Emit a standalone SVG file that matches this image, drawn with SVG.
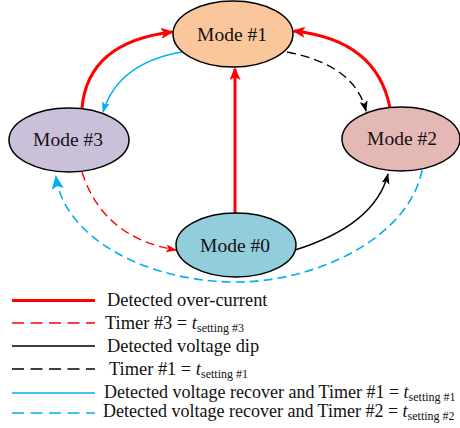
<svg xmlns="http://www.w3.org/2000/svg" width="460" height="428" viewBox="0 0 460 428">
  <style>
    .node { stroke: #000; stroke-width: 1.5; }
    .label { font-family: "Liberation Serif", "Times New Roman", serif; font-size: 19.5px; fill: #111; text-anchor: middle; }
    .leg { font-family: "Liberation Serif", "Times New Roman", serif; font-size: 18.4px; fill: #111; }
    .leg.long { font-size: 18px; }
    .sub { font-size: 12px; }
    .it { font-style: italic; }
    .red { stroke: #FF0000; stroke-width: 3; fill: none; }
    .redd { stroke: #FF0000; stroke-width: 1.4; fill: none; stroke-dasharray: 9 5; }
    .blk { stroke: #000; stroke-width: 1.4; fill: none; }
    .blkd { stroke: #000; stroke-width: 1.4; fill: none; stroke-dasharray: 9 5; }
    .blu { stroke: #00B0F0; stroke-width: 1.4; fill: none; }
    .blud { stroke: #00B0F0; stroke-width: 1.6; fill: none; stroke-dasharray: 9 5; }
  </style>
  <defs>
    <marker id="arRed" markerUnits="userSpaceOnUse" markerWidth="14" markerHeight="12" refX="11" refY="5.5" orient="auto">
      <path d="M0,0 L13,5.5 L0,11 L3,5.5 Z" fill="#FF0000"/>
    </marker>
    <marker id="arRedS" markerUnits="userSpaceOnUse" markerWidth="12" markerHeight="10" refX="10" refY="4" orient="auto">
      <path d="M0,0 L11,4 L0,8 L2.5,4 Z" fill="#FF0000"/>
    </marker>
    <marker id="arBlk" markerUnits="userSpaceOnUse" markerWidth="12" markerHeight="10" refX="10" refY="4" orient="auto">
      <path d="M0,0 L11,4 L0,8 L2.5,4 Z" fill="#000"/>
    </marker>
    <marker id="arBlu" markerUnits="userSpaceOnUse" markerWidth="12" markerHeight="10" refX="10" refY="4" orient="auto">
      <path d="M0,0 L11,4 L0,8 L2.5,4 Z" fill="#00B0F0"/>
    </marker>
    <marker id="arBluL" markerUnits="userSpaceOnUse" markerWidth="15" markerHeight="13" refX="12" refY="6" orient="auto">
      <path d="M0,0 L14,6 L0,12 L3,6 Z" fill="#00B0F0"/>
    </marker>
  </defs>

  <!-- transitions -->
  <g id="connectors">
    <!-- Mode #0 -> Mode #1 : over-current -->
    <path class="red" d="M235,213 L235,69" marker-end="url(#arRed)"/>
    <!-- Mode #3 -> Mode #1 : over-current -->
    <path class="red" d="M82,108 Q88,42 172,32" marker-end="url(#arRed)"/>
    <!-- Mode #2 -> Mode #1 : over-current -->
    <path class="red" d="M390,108 Q377,40 294,31" marker-end="url(#arRed)"/>
    <!-- Mode #1 -> Mode #3 : voltage recover, timer #1 -->
    <path class="blu" d="M182,52 Q118,63 103,112" marker-end="url(#arBlu)"/>
    <!-- Mode #1 -> Mode #2 : timer #1 -->
    <path class="blkd" d="M287,52 Q355,65 366,111" marker-end="url(#arBlk)"/>
    <!-- Mode #3 -> Mode #0 : timer #3 -->
    <path class="redd" d="M82,172 Q103,238 176,250" marker-end="url(#arRedS)"/>
    <!-- Mode #0 -> Mode #2 : voltage dip -->
    <path class="blk" d="M295,250 Q375,225 388,174" marker-end="url(#arBlk)"/>
    <!-- Mode #2 -> Mode #3 : voltage recover, timer #2 -->
    <path class="blud" d="M422,170 C410,235 320,282 236,282 C150,282 65,240 56,177" marker-end="url(#arBluL)"/>
  </g>

  <!-- states -->
  <g id="mode1">
    <ellipse class="node" cx="233" cy="34" rx="60" ry="33" fill="#F9C79B"/>
    <text class="label" x="232" y="41">Mode #1</text>
  </g>
  <g id="mode3">
    <ellipse class="node" cx="69" cy="140" rx="60" ry="32" fill="#CBC0DA"/>
    <text class="label" x="68" y="146">Mode #3</text>
  </g>
  <g id="mode2">
    <ellipse class="node" cx="401" cy="139" rx="59" ry="32" fill="#E3B8B5"/>
    <text class="label" x="402" y="145">Mode #2</text>
  </g>
  <g id="mode0">
    <ellipse class="node" cx="236" cy="245" rx="60" ry="32" fill="#92CDDC"/>
    <text class="label" x="235" y="252">Mode #0</text>
  </g>

  <!-- legend -->
  <g id="legend">
    <line class="red" x1="12" y1="300.5" x2="95" y2="300.5"/>
    <text class="leg" x="107" y="306">Detected over-current</text>

    <line class="redd" x1="12" y1="323" x2="95" y2="323" style="stroke-dasharray:12 6.5"/>
    <text class="leg" x="105" y="329">Timer #3 = <tspan class="it">t</tspan><tspan class="sub" dy="3">setting #3</tspan></text>

    <line class="blk" x1="12" y1="346" x2="95" y2="346"/>
    <text class="leg" x="107" y="352">Detected voltage dip</text>

    <line class="blkd" x1="12" y1="369" x2="95" y2="369" style="stroke-dasharray:12 6.5"/>
    <text class="leg" x="109" y="375">Timer #1 = <tspan class="it">t</tspan><tspan class="sub" dy="3">setting #1</tspan></text>

    <line class="blu" x1="12" y1="393" x2="95" y2="393"/>
    <text class="leg long" x="104" y="398">Detected voltage recover and Timer #1 = <tspan class="it">t</tspan><tspan class="sub" dy="3">setting #1</tspan></text>

    <line class="blud" x1="12" y1="413" x2="95" y2="413" style="stroke-dasharray:12 6.5"/>
    <text class="leg long" x="103" y="417">Detected voltage recover and Timer #2 = <tspan class="it">t</tspan><tspan class="sub" dy="3">setting #2</tspan></text>
  </g>
</svg>
